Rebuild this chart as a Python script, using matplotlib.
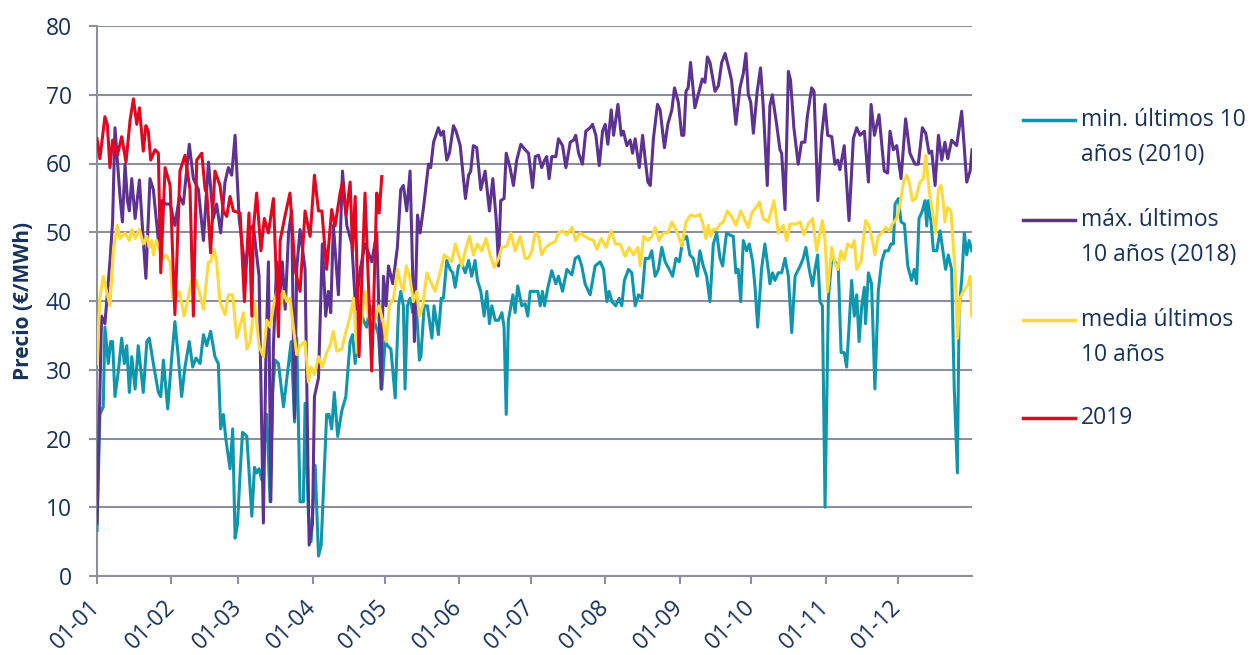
import matplotlib
matplotlib.use("Agg")
import matplotlib.pyplot as plt
from matplotlib.lines import Line2D

plt.rcParams['font.family'] = ['Open Sans', 'DejaVu Sans']

# day of year (0 = 1 Jan) and price
month_labels = ['01-01', '01-02', '01-03', '01-04', '01-05', '01-06',
                '01-07', '01-08', '01-09', '01-10', '01-11', '01-12']
month_start = [0, 31, 59, 90, 120, 151, 181, 212, 243, 273, 304, 334]

min_day = [0, 1.2, 2.6, 3.3, 4.7, 5.7, 6.5, 7.5, 8.9, 10.3, 11.4, 12.4, 13.5, 14.5, 15.9, 17.2, 19.3, 20.8, 21.8,
           23.5, 25.6, 26.6, 27.7, 29.5, 31.2, 32.5, 33.9, 35.3, 36.7, 38.5, 39.9, 41.3, 43.0, 44.4, 45.8, 47.4,
           49.2, 50.6, 51.6, 52.7, 53.8, 55.5, 56.6, 57.6, 58.6, 59.7, 60.7, 62.5, 64.6, 65.7, 66.6, 67.6, 68.7,
           70.8, 72.2, 73.2, 74.3, 75.7, 77.8, 79.9, 81.0, 82.4, 83.3, 84.7, 86.1, 86.8, 88.2, 89.3, 91.0, 92.4,
           93.5, 94.5, 95.8, 96.8, 97.9, 99.0, 100.4, 102.1, 103.8, 105.6, 106.6, 107.7, 108.8, 109.8, 111.1,
           112.5, 113.9, 116.0, 117.4, 118.8, 120.2, 121.2, 122.6, 124.4, 125.8, 126.7, 127.8, 128.5, 129.5,
           130.6, 131.7, 133.1, 134.5, 135.1, 136.5, 137.8, 139.7, 140.6, 142.4, 143.6, 144.5, 145.9, 147.3,
           148.4, 149.4, 150.8, 152.2, 153.6, 155.0, 156.3, 157.7, 158.7, 160.1, 161.5, 162.6, 163.7, 164.7,
           166.1, 167.5, 168.9, 169.8, 170.7, 171.6, 173.5, 174.4, 175.5, 177.2, 178.6, 179.7, 180.7, 182.1,
           183.9, 184.9, 185.8, 186.7, 188.1, 189.7, 191.4, 192.5, 194.2, 196.0, 198.1, 199.5, 200.9, 202.2,
           203.6, 205.7, 207.8, 209.9, 211.3, 212.7, 213.6, 214.8, 216.4, 217.8, 218.9, 220.0, 221.7, 223.1,
           224.5, 225.9, 227.3, 228.7, 230.3, 231.4, 232.8, 234.2, 235.6, 237.0, 238.7, 240.1, 241.5, 242.9,
           244.3, 246.0, 247.3, 248.7, 250.4, 251.5, 252.9, 254.3, 255.7, 257.1, 258.5, 259.9, 261.0, 262.6,
           264.0, 265.4, 266.5, 267.5, 268.5, 269.6, 271.0, 272.1, 273.5, 274.5, 275.6, 277.2, 278.6, 280.0,
           280.7, 281.8, 282.8, 284.2, 285.6, 287.0, 288.4, 289.8, 291.2, 293.3, 294.6, 295.7, 297.1, 298.5,
           299.5, 300.6, 301.6, 302.6, 303.7, 305.1, 306.5, 307.8, 309.2, 310.4, 311.7, 312.7, 313.7, 314.8,
           315.9, 316.9, 317.9, 319.0, 320.1, 320.6, 321.8, 323.1, 324.5, 325.9, 327.3, 328.7, 330.1, 331.2,
           332.2, 332.9, 334.3, 335.4, 336.8, 338.2, 339.8, 340.9, 341.9, 342.9, 344.3, 345.4, 346.1, 346.8,
           347.9, 348.9, 350.3, 351.7, 353.1, 354.0, 355.1, 356.5, 357.6, 358.9, 359.6, 360.8, 361.8, 362.8,
           363.8, 364.9]
min_val = [6.6, 23.5, 24.6, 36.2, 30.9, 34.1, 34.1, 26.1, 29.8, 34.6, 30.9, 33.5, 26.7, 31.9, 27.2, 33.5, 26.7,
           34.1, 34.6, 30.9, 26.7, 26.1, 31.4, 24.3, 31.9, 37.0, 31.9, 26.1, 30.4, 34.1, 30.4, 31.7, 30.9, 35.1,
           33.5, 35.6, 31.9, 30.9, 21.4, 23.5, 19.8, 15.6, 21.4, 5.5, 7.5, 15.0, 20.9, 20.3, 8.7, 15.8, 15.0, 15.6,
           14.0, 23.5, 10.8, 26.7, 31.4, 30.9, 24.6, 30.9, 34.1, 22.4, 34.6, 10.8, 10.8, 25.1, 8.7, 5.0, 16.1, 2.9,
           4.5, 12.9, 23.5, 23.5, 21.4, 26.7, 20.3, 24.0, 26.1, 34.1, 35.1, 30.9, 35.6, 39.3, 37.2, 36.2, 39.3,
           36.7, 35.1, 27.2, 34.1, 33.5, 33.0, 25.9, 39.3, 41.4, 39.3, 27.2, 39.3, 40.4, 38.3, 39.9, 31.4, 31.9,
           39.3, 39.3, 34.6, 39.3, 35.1, 40.4, 40.4, 45.9, 44.6, 44.1, 42.0, 45.1, 45.4, 44.1, 45.9, 43.6, 45.9,
           43.0, 41.4, 37.8, 41.4, 36.7, 39.3, 37.2, 37.2, 38.3, 36.2, 23.5, 37.2, 40.9, 38.3, 42.2, 39.3, 39.6,
           37.8, 41.4, 41.4, 41.4, 39.3, 41.4, 39.3, 42.0, 44.4, 42.5, 43.6, 41.4, 44.6, 43.8, 46.2, 46.5, 45.1,
           42.5, 40.9, 45.1, 45.7, 44.6, 39.9, 41.4, 39.9, 39.3, 40.4, 39.3, 43.0, 44.6, 44.1, 39.3, 40.9, 40.4,
           46.2, 46.2, 47.3, 43.6, 44.6, 47.8, 45.7, 44.6, 43.6, 46.2, 45.7, 48.8, 49.4, 46.7, 46.2, 43.6, 47.3,
           45.1, 43.6, 39.9, 48.3, 49.9, 46.2, 45.1, 49.9, 49.6, 49.4, 44.1, 44.6, 39.9, 48.8, 47.3, 48.3, 45.7,
           42.0, 36.2, 44.6, 48.3, 44.6, 42.5, 44.1, 43.0, 44.1, 44.1, 46.2, 43.6, 35.4, 43.6, 45.1, 46.2, 47.8,
           44.6, 42.2, 44.6, 46.7, 39.9, 39.3, 10.0, 40.4, 46.2, 45.7, 45.1, 32.5, 32.5, 30.4, 36.2, 43.0, 37.8,
           40.9, 34.1, 39.3, 42.0, 36.7, 44.1, 42.5, 27.2, 41.4, 45.7, 47.3, 47.3, 48.3, 48.3, 54.1, 54.9, 51.5,
           51.2, 45.1, 43.0, 44.6, 42.5, 52.0, 53.1, 54.6, 50.9, 54.6, 51.5, 47.3, 47.3, 50.2, 46.7, 44.6, 46.7,
           44.6, 27.2, 15.0, 38.3, 43.6, 49.9, 46.7, 48.8, 47.3]

max_day = [0, 1.9, 3.3, 5.4, 6.5, 7.5, 8.5, 9.6, 10.6, 11.7, 12.7, 13.5, 14.5, 15.9, 17.7, 19.1, 20.4, 22.1, 23.5,
           25.6, 27.0, 28.8, 30.5, 32.5, 34.4, 36.0, 38.5, 40.2, 42.3, 44.4, 46.5, 48.5, 49.9, 51.6, 53.4, 54.8,
           56.2, 57.6, 59.3, 61.8, 63.9, 65.2, 67.6, 69.4, 70.4, 71.5, 72.5, 73.6, 75.0, 76.4, 77.3, 78.5, 79.9,
           81.2, 82.4, 83.3, 84.7, 86.8, 88.5, 89.9, 90.7, 92.4, 94.0, 95.4, 96.5, 97.5, 98.6, 100.7, 102.4,
           104.2, 106.3, 107.9, 109.8, 111.8, 114.6, 116.7, 118.5, 119.5, 120.6, 121.6, 123.4, 125.3, 126.7,
           127.8, 129.2, 130.6, 132.4, 133.7, 134.8, 136.2, 138.3, 139.2, 140.4, 142.4, 143.4, 144.5, 145.9,
           147.0, 148.7, 149.8, 151.5, 153.7, 155.0, 155.9, 157.0, 158.4, 160.1, 161.9, 163.7, 165.1, 166.5,
           167.5, 168.4, 169.8, 170.7, 172.3, 173.7, 175.1, 176.8, 178.6, 180.0, 181.7, 182.8, 184.2, 185.5,
           186.7, 187.6, 188.6, 189.7, 191.4, 192.5, 194.2, 195.6, 197.4, 198.8, 199.7, 200.9, 202.5, 203.9,
           205.7, 206.7, 208.1, 209.5, 210.9, 212.0, 213.1, 214.5, 215.5, 217.3, 218.7, 219.6, 221.0, 222.4,
           223.4, 224.5, 226.2, 227.6, 228.7, 229.8, 230.8, 232.1, 233.8, 234.9, 236.7, 238.1, 239.8, 240.9,
           242.5, 243.9, 244.8, 245.7, 246.6, 247.6, 249.4, 250.8, 252.5, 253.6, 254.6, 255.7, 257.8, 259.2,
           260.6, 262.0, 263.3, 264.7, 266.5, 268.2, 269.6, 270.7, 271.7, 272.7, 273.8, 275.4, 276.8, 277.9,
           279.6, 280.7, 281.7, 283.5, 284.9, 285.6, 287.0, 288.4, 289.3, 290.7, 292.5, 293.9, 295.3, 296.3,
           298.1, 299.1, 300.7, 302.3, 303.7, 304.8, 306.5, 307.8, 309.0, 309.9, 311.7, 313.7, 315.5, 316.9,
           318.3, 320.1, 321.8, 322.9, 324.3, 326.2, 328.4, 329.8, 330.8, 332.2, 333.6, 335.4, 337.3, 339.1,
           341.2, 342.6, 344.3, 345.7, 347.1, 348.2, 349.6, 351.0, 352.4, 353.7, 354.9, 356.5, 358.6, 360.7,
           362.8, 364.2, 365.0]
max_val = [7.7, 37.8, 36.7, 45.7, 51.5, 65.2, 60.5, 55.2, 51.5, 59.9, 54.6, 53.1, 57.8, 52.0, 57.6, 49.9, 43.3,
           57.8, 56.2, 48.8, 54.6, 54.1, 54.1, 51.0, 55.2, 54.1, 62.8, 57.8, 56.2, 48.8, 60.2, 52.0, 54.1, 49.9,
           57.3, 59.4, 58.3, 64.1, 52.0, 44.6, 50.4, 51.0, 43.6, 7.7, 30.9, 45.7, 10.8, 33.5, 45.7, 41.4, 45.7,
           38.8, 49.9, 53.1, 23.0, 44.6, 50.4, 44.6, 4.5, 7.7, 26.1, 28.8, 48.3, 37.8, 41.4, 38.3, 51.0, 40.9,
           58.9, 51.0, 48.3, 38.8, 44.6, 48.3, 45.7, 49.9, 27.2, 43.6, 39.3, 45.1, 42.5, 47.8, 56.2, 56.8, 53.1,
           58.9, 34.1, 52.5, 49.9, 53.6, 59.9, 59.4, 63.1, 65.2, 64.1, 64.7, 60.5, 61.5, 65.5, 64.7, 62.6, 54.9,
           58.3, 58.9, 62.6, 62.3, 56.2, 58.9, 53.1, 57.8, 52.0, 45.1, 54.6, 54.9, 61.5, 59.4, 56.8, 60.5, 62.8,
           62.0, 61.5, 56.5, 61.0, 61.2, 59.4, 60.5, 61.0, 57.8, 61.0, 61.0, 63.6, 62.6, 59.4, 63.1, 63.4, 64.1,
           61.5, 59.9, 64.7, 65.2, 65.7, 64.1, 59.7, 64.7, 65.7, 62.8, 67.8, 64.1, 68.6, 64.1, 64.7, 62.6, 63.4,
           61.5, 63.6, 59.4, 64.1, 60.5, 57.3, 56.8, 63.6, 68.6, 67.8, 62.3, 65.7, 67.8, 71.0, 68.9, 64.1, 64.1,
           70.5, 71.0, 74.7, 68.1, 70.0, 72.3, 71.8, 75.5, 74.7, 70.5, 71.3, 74.7, 76.0, 74.2, 72.1, 65.7, 71.0,
           73.1, 76.0, 70.0, 68.9, 64.4, 70.5, 73.9, 68.4, 56.8, 68.4, 70.0, 65.7, 62.0, 61.5, 53.3, 73.4, 72.1,
           65.2, 59.9, 63.1, 63.1, 66.8, 71.0, 70.5, 54.6, 64.1, 68.6, 64.1, 63.9, 59.9, 60.5, 59.1, 62.6, 51.7,
           63.6, 65.2, 64.1, 64.7, 57.3, 68.6, 64.1, 67.1, 58.9, 58.6, 64.7, 62.0, 62.6, 57.8, 66.5, 61.5, 59.9,
           59.9, 65.2, 64.4, 61.5, 61.8, 56.8, 64.1, 60.5, 63.1, 60.7, 63.4, 62.6, 67.6, 57.3, 58.9, 62.0]

avg_day = [0, 1.2, 2.6, 4.0, 5.4, 6.8, 8.5, 9.6, 11.7, 13.5, 14.5, 15.9, 17.7, 19.3, 20.8, 21.8, 22.8, 23.5, 24.9,
           26.3, 27.7, 28.8, 30.5, 31.6, 33.0, 34.4, 36.3, 37.7, 39.5, 41.3, 43.0, 44.4, 46.5, 47.4, 48.8, 49.9,
           51.3, 53.4, 54.8, 56.6, 58.3, 61.1, 62.5, 63.9, 65.7, 67.6, 69.4, 70.8, 72.2, 73.6, 75.0, 76.4, 77.8,
           79.2, 80.5, 81.9, 83.3, 84.7, 86.8, 88.2, 89.3, 90.7, 92.4, 94.0, 95.8, 97.2, 98.6, 100.0, 102.1,
           103.5, 105.6, 107.0, 108.4, 109.8, 111.8, 113.2, 114.9, 116.7, 117.7, 119.5, 120.6, 122.0, 123.7,
           125.3, 126.7, 127.8, 129.0, 130.4, 132.0, 133.4, 134.5, 135.9, 137.6, 139.0, 141.0, 143.1, 144.8,
           146.6, 148.0, 149.4, 150.8, 152.2, 153.6, 155.4, 157.0, 158.7, 160.5, 162.3, 164.0, 165.7, 167.5,
           168.9, 171.0, 172.6, 174.4, 176.5, 178.6, 180.0, 181.4, 182.8, 184.2, 185.5, 187.2, 189.0, 191.1,
           192.5, 194.2, 196.0, 198.1, 199.7, 201.5, 203.4, 205.0, 207.1, 208.5, 210.3, 212.3, 214.5, 216.2,
           218.2, 220.3, 222.0, 223.8, 225.6, 226.6, 228.0, 229.8, 231.5, 232.8, 234.5, 236.3, 238.1, 239.8,
           242.1, 243.9, 245.7, 247.6, 249.4, 251.5, 252.9, 254.0, 255.0, 256.0, 257.1, 258.5, 259.9, 261.3,
           262.9, 264.7, 266.5, 268.5, 270.3, 271.7, 273.1, 274.9, 276.3, 277.9, 280.0, 282.4, 284.2, 286.3,
           287.7, 289.1, 291.6, 293.3, 294.9, 296.7, 298.5, 300.2, 302.6, 303.7, 304.8, 306.5, 307.6, 309.0,
           310.3, 311.7, 313.1, 314.8, 315.9, 316.9, 318.7, 320.6, 322.0, 323.4, 324.5, 325.9, 327.3, 329.0,
           330.4, 331.8, 333.6, 335.0, 336.4, 337.8, 339.1, 340.1, 341.5, 343.3, 344.7, 345.7, 347.1, 348.2,
           349.8, 351.0, 352.1, 353.1, 353.7, 354.9, 356.2, 357.9, 359.0, 360.0, 361.4, 363.5, 364.2, 364.9]
avg_val = [30.9, 40.4, 43.6, 41.4, 39.3, 47.3, 51.0, 49.1, 49.9, 48.8, 50.4, 49.1, 50.4, 48.3, 49.4, 47.8, 48.8,
           46.7, 48.8, 47.3, 46.2, 46.7, 45.7, 40.4, 40.4, 41.4, 37.8, 39.9, 43.0, 43.0, 40.9, 38.8, 45.7, 45.7,
           47.5, 45.7, 39.9, 38.0, 40.9, 40.9, 34.6, 38.3, 33.0, 34.1, 39.9, 33.5, 31.9, 37.2, 36.2, 39.3, 41.4,
           38.8, 41.4, 39.9, 40.4, 36.2, 32.2, 33.5, 34.1, 28.2, 30.4, 29.3, 31.9, 30.4, 32.5, 33.5, 35.6, 32.7,
           33.0, 35.1, 37.8, 40.4, 32.5, 35.6, 41.4, 37.8, 36.2, 38.3, 39.3, 36.7, 34.1, 39.3, 40.4, 44.6, 42.5,
           41.4, 45.1, 43.6, 39.9, 41.4, 37.8, 39.3, 44.1, 43.0, 41.4, 44.1, 46.7, 46.2, 45.7, 48.3, 46.7, 45.1,
           47.3, 49.4, 46.7, 48.3, 47.3, 49.1, 46.7, 44.9, 46.2, 47.8, 48.0, 49.9, 47.3, 49.4, 46.2, 46.2, 47.3,
           49.9, 49.4, 46.7, 47.8, 48.3, 48.6, 49.9, 50.2, 49.6, 50.7, 48.8, 49.9, 49.4, 49.1, 48.8, 47.5, 49.1,
           47.8, 50.2, 48.3, 48.3, 46.5, 47.8, 46.7, 47.8, 45.1, 49.4, 48.8, 49.4, 50.7, 48.8, 49.9, 49.9, 51.5,
           49.9, 48.0, 51.5, 52.5, 52.3, 52.6, 51.0, 49.1, 51.0, 49.4, 50.4, 50.4, 51.2, 51.5, 53.1, 52.3, 51.0,
           53.1, 51.7, 50.7, 52.8, 53.6, 54.4, 52.0, 51.5, 54.6, 49.9, 51.0, 48.8, 51.2, 51.2, 51.5, 49.6, 51.2,
           52.0, 47.3, 51.7, 48.8, 41.4, 47.8, 45.7, 44.6, 47.3, 46.0, 48.3, 47.8, 48.8, 44.6, 45.7, 51.7, 51.0,
           48.8, 46.7, 49.4, 49.9, 50.7, 50.2, 51.2, 52.0, 54.1, 57.3, 58.3, 56.8, 54.6, 54.9, 57.3, 57.8, 61.2,
           56.2, 53.6, 49.9, 56.2, 56.8, 54.1, 51.5, 53.6, 53.1, 44.6, 34.6, 40.4, 41.4, 42.5, 43.6, 37.8]

y2019_day = [0, 1.2, 3.3, 4.3, 5.4, 6.5, 7.5, 8.5, 10.3, 12.1, 13.8, 15.2, 16.6, 17.7, 19.3, 20.4, 21.4, 22.4,
             24.2, 25.6, 26.6, 28.4, 30.5, 32.5, 34.6, 36.7, 38.8, 40.2, 41.6, 43.7, 45.1, 45.8, 47.4, 49.2,
             51.3, 52.7, 54.1, 55.5, 56.9, 59.7, 61.5, 63.4, 64.6, 65.2, 66.6, 68.4, 69.8, 71.5, 73.6, 75.7,
             76.4, 78.5, 80.5, 82.6, 84.7, 86.8, 88.9, 90.7, 92.4, 93.8, 95.8, 97.9, 99.3, 101.4, 102.4, 103.9,
             105.6, 106.6, 107.7, 109.3, 111.8, 114.6, 116.7, 117.7, 118.8]
y2019_val = [63.6, 60.7, 66.8, 65.7, 59.4, 63.4, 62.3, 61.2, 63.9, 60.2, 66.3, 69.4, 65.7, 68.1, 61.8, 65.5, 64.7,
             60.5, 62.0, 61.5, 44.1, 59.4, 56.8, 38.0, 58.9, 61.2, 56.2, 37.8, 60.5, 61.5, 56.2, 55.7, 47.0, 58.9,
             56.8, 53.1, 52.3, 55.2, 53.1, 52.8, 39.9, 52.8, 37.8, 50.4, 55.7, 47.3, 52.0, 49.9, 54.9, 34.8, 48.8,
             52.5, 55.7, 44.6, 41.4, 53.1, 49.4, 58.3, 53.1, 53.1, 44.6, 53.3, 50.9, 55.7, 57.3, 52.5, 57.3, 47.3,
             55.2, 31.9, 55.7, 29.8, 55.7, 52.8, 58.1]

series = [
    (min_day, min_val, '#0F96AF', ['min. últimos 10', 'años (2010)']),
    (max_day, max_val, '#5C3292', ['máx. últimos', '10 años (2018)']),
    (avg_day, avg_val, '#FFD93A', ['media últimos', '10 años']),
    (y2019_day, y2019_val, '#E3061E', ['2019']),
]

navy = '#17325A'
grid_col = '#8D9099'

fig = plt.figure(figsize=(12.51, 6.55), dpi=100)
ax = fig.add_axes([97 / 1251, 1 - 576 / 655, 875 / 1251, 550 / 655])

for d, v, col, lab in series:
    ax.plot(d, v, color=col, lw=2.2, solid_joinstyle='round', zorder=3)

ax.set_xlim(0, 365)
ax.set_ylim(0, 80)
ax.set_yticks(range(0, 81, 10))
ax.set_xticks(month_start)
ax.set_xticklabels(month_labels, rotation=45, ha='right', va='center', rotation_mode='anchor')
ax.yaxis.grid(True, color=grid_col, lw=1.5, zorder=0)
ax.set_axisbelow(True)
for s in ['top', 'right']:
    ax.spines[s].set_visible(False)
for s in ['left', 'bottom']:
    ax.spines[s].set_color(grid_col)
    ax.spines[s].set_linewidth(1.5)
ax.tick_params(axis='both', colors=grid_col, labelcolor=navy, labelsize=16.5, width=1.5, length=6)
ax.tick_params(axis='y', pad=12)
ax.tick_params(axis='x', pad=14)
ax.set_ylabel('Precio (€/MWh)', color=navy, fontsize=15, fontweight='bold')
ax.yaxis.set_label_coords(-0.072, 0.5)

# legend drawn by hand so the line sits on the first text row
rows = [120, 220, 320, 418]
for (d, v, col, lab), y in zip(series, rows):
    fy = 1 - y / 655
    fig.add_artist(Line2D([1023 / 1251, 1075 / 1251], [fy, fy], color=col, lw=2.5))
    for k, line in enumerate(lab):
        fig.text(1081 / 1251, 1 - (y + 35 * k) / 655, line, color=navy, fontsize=16.5, va='center')

fig.savefig('out.png', dpi=100)
